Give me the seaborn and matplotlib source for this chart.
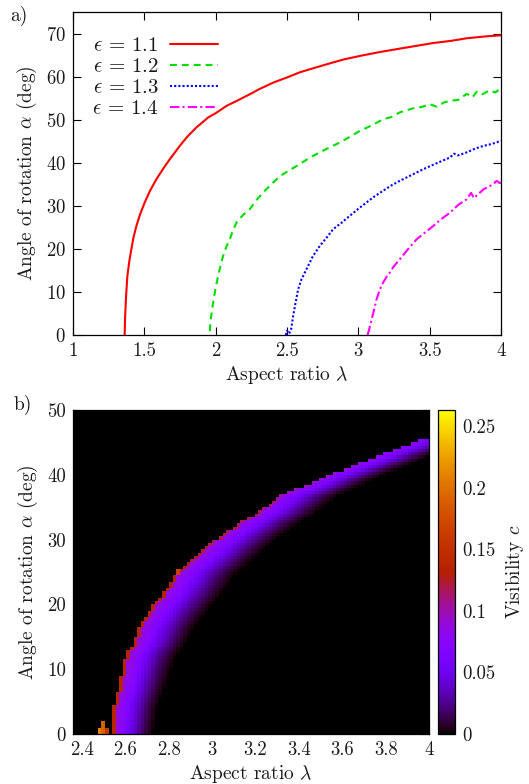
import numpy as np
import pandas as pd
import matplotlib
matplotlib.use("Agg")
import matplotlib.pyplot as plt
import seaborn as sns

# ---------------- panel a: onset angle versus aspect ratio ----------------
lam_11 = [1.362, 1.365, 1.372, 1.381, 1.395, 1.409, 1.425, 1.444, 1.47, 1.503,
          1.54, 1.585, 1.63, 1.678, 1.71, 1.748, 1.80, 1.865, 1.947, 2.0,
          2.076, 2.15, 2.263, 2.30, 2.403, 2.50, 2.590, 2.70, 2.824, 2.90,
          3.011, 3.15, 3.291, 3.40, 3.525, 3.65, 3.759, 3.88, 4.0]
alpha_11 = [0, 4, 9, 13.7, 17.2, 19.9, 22.8, 25.3, 28, 30.8,
            33.5, 36.2, 38.5, 40.8, 42.2, 43.9, 46.0, 48.2, 50.5, 51.5,
            53.2, 54.4, 56.3, 57.0, 58.6, 59.8, 61.0, 62.1, 63.3, 64.0,
            64.8, 65.7, 66.5, 67.1, 67.8, 68.3, 68.9, 69.3, 69.6]

lam_12 = [1.959, 1.965, 1.982, 2.0, 2.017, 2.035, 2.052, 2.075, 2.099, 2.12,
          2.146, 2.19, 2.239, 2.29, 2.333, 2.39, 2.45, 2.52, 2.59, 2.66,
          2.73, 2.80, 2.87, 2.94, 3.011, 3.09, 3.174, 3.23, 3.291, 3.38,
          3.45, 3.5, 3.55, 3.6, 3.65, 3.7, 3.76, 3.8, 3.83, 3.87,
          3.92, 3.96, 4.0]
alpha_12 = [0.9, 3.5, 7.5, 11, 13.7, 16.2, 18.4, 20.5, 22.2, 24.2,
            26.1, 27.8, 29.2, 31.5, 33.1, 35.0, 36.9, 38.3, 39.7, 41.2,
            42.4, 43.6, 44.7, 46.0, 47.4, 48.6, 50.1, 50.6, 51.7, 52.6,
            53.0, 53.6, 53.0, 54.0, 54.4, 54.6, 56.0, 55.2, 56.5, 55.9,
            56.8, 56.3, 57.3]

lam_13 = [2.492, 2.50, 2.515, 2.53, 2.543, 2.56, 2.578, 2.60, 2.637, 2.68,
          2.730, 2.78, 2.824, 2.88, 2.941, 3.0, 3.058, 3.11, 3.174, 3.23,
          3.291, 3.37, 3.455, 3.55, 3.642, 3.67, 3.70, 3.759, 3.82, 3.876,
          3.94, 4.0]
alpha_13 = [0, 1.0, 0.3, 1.5, 4.4, 7.5, 10.6, 12.8, 15.3, 18.2,
            20.7, 22.7, 24.6, 26.0, 27.7, 29.3, 30.8, 32.1, 33.5, 34.7,
            35.8, 37.1, 38.5, 39.9, 41.2, 42.1, 41.7, 42.4, 43.3, 43.9,
            44.4, 45.1]

lam_14 = [3.065, 3.075, 3.093, 3.11, 3.128, 3.15, 3.174, 3.20, 3.221, 3.25,
          3.291, 3.35, 3.408, 3.46, 3.525, 3.58, 3.642, 3.70, 3.759, 3.79,
          3.81, 3.876, 3.94, 3.97, 3.99, 4.0]
alpha_14 = [0, 1.2, 3.6, 5.8, 8.3, 10.5, 12.2, 13.6, 14.5, 16.0,
            17.6, 20.0, 22.2, 23.6, 25.3, 26.9, 28.4, 30.2, 31.5, 33.0,
            31.8, 33.8, 34.9, 35.8, 35.3, 35.4]

eps_labels = [r"$\epsilon\,=\,1.1$", r"$\epsilon\,=\,1.2$",
              r"$\epsilon\,=\,1.3$", r"$\epsilon\,=\,1.4$"]
line_colors = ["#ff0000", "#00e000", "#0000ff", "#ff00ff"]
line_styles = ["-", (0, (3.3, 2.4)), (0, (1.0, 1.0)), (0, (4.5, 1.5, 1.0, 1.5))]

a_xticks = [1, 1.5, 2, 2.5, 3, 3.5, 4]
a_xticklabels = ["1", "1.5", "2", "2.5", "3", "3.5", "4"]
a_yticks = [0, 10, 20, 30, 40, 50, 60, 70]

# ---------------- panel b: visibility map for epsilon = 1.3 ----------------
# upper-left boundary of the visible band (angle -> aspect ratio)
edge_alpha = [0, 4.5, 6.8, 10.6, 12.4, 14.0, 16.6, 19.1, 21.7, 25.1, 26.9,
              28.9, 30.5, 32.5, 34.3, 36.6, 38.2, 40.0, 41.5, 43.3, 45.4, 45.6]
edge_lam = [2.540, 2.548, 2.566, 2.591, 2.606, 2.637, 2.667, 2.713, 2.774, 2.843,
            2.911, 2.973, 3.034, 3.125, 3.217, 3.308, 3.415, 3.537, 3.66, 3.797,
            3.965, 9.0]
# visibility of the boundary cell along the band
edge_c_alpha = [0, 10, 20, 25, 30, 35, 38, 42, 45.5]
edge_c = [0.138, 0.136, 0.134, 0.128, 0.12, 0.115, 0.10, 0.085, 0.07]
# decay of visibility with distance (in aspect ratio) behind the boundary
prof_d = [0.0164, 0.035, 0.055, 0.075, 0.095, 0.115, 0.135, 0.155, 0.175, 0.19]
prof_c = [0.09, 0.08, 0.07, 0.055, 0.042, 0.03, 0.02, 0.011, 0.004, 0.0]
# brightness and horizontal extent of the band body along the angle
body_alpha = [0, 10, 20, 30, 40, 45.5]
body_scale = [1.0, 1.0, 0.97, 0.95, 0.85, 0.75]
width_scale = [1.0, 1.2, 1.45, 1.5, 1.35, 1.2]
# isolated bright cells (aspect ratio, angle range, visibility)
spike_lam = [2.49, 2.505, 2.522, 2.842]
spike_alpha_lo = [0.0, 0.0, 0.0, 24.5]
spike_alpha_hi = [1.0, 2.0, 1.0, 25.5]
spike_c = [0.21, 0.19, 0.16, 0.165]

b_lam_min, b_lam_max, n_lam = 2.36, 4.0, 100
b_alpha_max, n_alpha = 50.0, 100
b_xticks = [2.4, 2.6, 2.8, 3.0, 3.2, 3.4, 3.6, 3.8, 4.0]
b_xticklabels = ["2.4", "2.6", "2.8", "3", "3.2", "3.4", "3.6", "3.8", "4"]
b_yticks = [0, 10, 20, 30, 40, 50]
cb_ticks = [0, 0.05, 0.1, 0.15, 0.2, 0.25]
cb_ticklabels = ["0", "0.05", "0.1", "0.15", "0.2", "0.25"]
c_max = 0.263

TICK_FS = 13.5
LABEL_FS = 14

# ---------------- style ----------------
sns.set_theme(style="ticks")
plt.rcParams.update({
    "font.family": ["cmr10"],
    "mathtext.fontset": "cm",
    "axes.formatter.use_mathtext": True,
    "font.size": LABEL_FS,
    "axes.labelsize": LABEL_FS,
    "xtick.labelsize": TICK_FS,
    "ytick.labelsize": TICK_FS,
    "axes.edgecolor": "black",
    "axes.linewidth": 0.9,
    "text.color": "#1a1a1a",
    "axes.labelcolor": "#1a1a1a",
    "xtick.color": "black",
    "ytick.color": "black",
    "xtick.labelcolor": "#1a1a1a",
    "ytick.labelcolor": "#1a1a1a",
})

fig = plt.figure(figsize=(5.29, 7.84), dpi=100)
ax_a = fig.add_axes([73 / 529, 1 - 335 / 784, 428 / 529, 323 / 784])
ax_b = fig.add_axes([73 / 529, 1 - 734 / 784, 356 / 529, 324 / 784])
cax = fig.add_axes([438 / 529, 1 - 734 / 784, 17 / 529, 324 / 784])

# ----- panel a -----
series = [(lam_11, alpha_11), (lam_12, alpha_12), (lam_13, alpha_13), (lam_14, alpha_14)]
for (lx, ay), lab, col, ls in zip(series, eps_labels, line_colors, line_styles):
    sns.lineplot(x=lx, y=ay, ax=ax_a, color=col, linewidth=1.5, linestyle=ls,
                 label=lab, sort=False, estimator=None)

ax_a.set_xlim(1, 4)
ax_a.set_ylim(0, 75)
ax_a.set_xticks(a_xticks)
ax_a.set_xticklabels(a_xticklabels)
ax_a.set_yticks(a_yticks)
ax_a.tick_params(direction="in", top=True, right=True, length=6, width=0.8, pad=5)
ax_a.set_xlabel(r"Aspect ratio $\lambda$", labelpad=3)
ax_a.set_ylabel(r"Angle of rotation $\alpha$ (deg)", labelpad=5)
for s in ax_a.spines.values():
    s.set_visible(True)
leg = ax_a.legend(loc="upper left", bbox_to_anchor=(0.045, 0.925), frameon=False,
                  markerfirst=False, handlelength=2.3, handletextpad=0.55,
                  labelspacing=0.12, borderpad=0, borderaxespad=0, fontsize=15)

# ----- panel b -----
dl = (b_lam_max - b_lam_min) / n_lam
da = b_alpha_max / n_alpha
lam_c = b_lam_min + dl * (np.arange(n_lam) + 0.5)
alpha_c = da * (np.arange(n_alpha) + 0.5)

vis = np.zeros((n_alpha, n_lam))
for i, a in enumerate(alpha_c):
    le = np.interp(a, edge_alpha, edge_lam)
    ec = np.interp(a, edge_c_alpha, edge_c)
    sc = np.interp(a, body_alpha, body_scale)
    ws = np.interp(a, body_alpha, width_scale)
    d = lam_c - le
    row = np.where(d < 0, 0.0, np.interp(d / ws, prof_d, prof_c) * sc)
    first = np.where(d >= 0)[0]
    if first.size:
        row[first[0]] = ec
    vis[i] = row
for sl, lo, hi, sv in zip(spike_lam, spike_alpha_lo, spike_alpha_hi, spike_c):
    j = int((sl - b_lam_min) / dl)
    vis[int(round(lo / da)): int(np.ceil(hi / da)), j] = sv

df = pd.DataFrame(vis, index=alpha_c, columns=lam_c)
sns.heatmap(df, ax=ax_b, cmap="gnuplot", vmin=0, vmax=c_max, cbar_ax=cax,
            xticklabels=False, yticklabels=False, rasterized=True)
ax_b.invert_yaxis()
ax_b.set_xticks([(v - b_lam_min) / dl for v in b_xticks])
ax_b.set_xticklabels(b_xticklabels, rotation=0)
ax_b.set_yticks([v / da for v in b_yticks])
ax_b.set_yticklabels([str(v) for v in b_yticks], rotation=0)
ax_b.tick_params(direction="in", top=True, right=True, length=6, width=0.8, pad=5,
                 color="#444444")
ax_b.set_xlabel(r"Aspect ratio $\lambda$", labelpad=3)
ax_b.set_ylabel(r"Angle of rotation $\alpha$ (deg)", labelpad=5)
for s in ax_b.spines.values():
    s.set_visible(True)
    s.set_color("black")

cb = ax_b.collections[0].colorbar
cb.outline.set_linewidth(0.9)
cb.outline.set_edgecolor("black")
cb.set_ticks(cb_ticks)
cb.set_ticklabels(cb_ticklabels)
cax.tick_params(direction="in", left=True, right=True, length=6, width=0.8, pad=5,
                labelsize=TICK_FS)
cb.set_label(r"Visibility $c$", rotation=90, labelpad=6)

fig.text(10 / 529, 1 - 16 / 784, "a)", fontsize=LABEL_FS, va="center", ha="left")
fig.text(14 / 529, 1 - 405 / 784, "b)", fontsize=LABEL_FS, va="center", ha="left")

fig.savefig("out.png", dpi=100)
